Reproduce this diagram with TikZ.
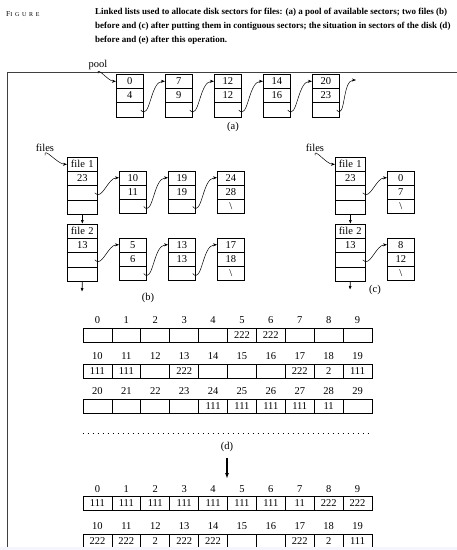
\documentclass[tikz,border=0pt]{standalone}
\usepackage{fontspec}
\setmainfont{Liberation Serif}
\newfontfamily\headfont[LetterSpace=45]{Liberation Serif}
\usetikzlibrary{
    arrows.meta,        % punte delle frecce
    calc,               % calcoli con coordinate
    positioning,
    shapes.multipart    % nodi con piu' campi
}

% riga di altezza fissa dentro i campi
\newcommand{\cell}[1]{\rule[-3.5pt]{0pt}{13.5pt}#1}

\tikzset{
    listbox/.style={draw, line width=0.7pt, rectangle split, rectangle split parts=3,
        text width=27pt, align=center, inner xsep=0pt, inner ysep=0pt, anchor=north west},
    filebox/.style={listbox, rectangle split parts=4, text width=30pt},
    sector/.style={draw, line width=0.7pt, minimum width=28.9pt, minimum height=14pt, inner sep=0pt},
    lbl/.style={inner sep=0pt, label distance=3.5pt},
    ptr/.style={-{Stealth[length=4pt,width=3pt]}, line width=0.5pt},
    down/.style={-{Latex[length=4pt,width=3pt]}, line width=0.7pt},
    bigarrow/.style={-{Latex[length=6pt,width=4pt]}, line width=1.4pt},
    dotline/.style={line width=1.1pt, dash pattern=on 1pt off 4pt},
    frame/.style={line width=0.8pt, black!75}
}

\begin{document}
\begin{tikzpicture}[x=1pt, y=-1pt, font=\fontsize{10.5}{12}\selectfont]

        \useasboundingbox (0,0) rectangle (457,550);

        % Intestazione e didascalia
        \node[anchor=base west, inner sep=0pt] (fig) at (6,16)
            {\headfont\fontsize{7.5}{8}\selectfont F\fontsize{6}{7}\selectfont IGURE};
        \node[anchor=north west, inner sep=0pt, align=left,
              font=\bfseries\fontsize{9}{14}\selectfont] (cap) at (95,7.5)
            {Linked lists used to allocate disk sectors for files: (a) a pool of available sectors; two files (b)\\
             before and (c) after putting them in contiguous sectors; the situation in sectors of the disk (d)\\
             before and (e) after this operation.};

        % Cornice
        \draw[frame] (7,550) -- (7,72) -- (457,72);

        % (a) pool dei settori liberi
        \node (pool) at (98,65) {pool};
        \node[listbox] (p1) at (116,74) {\cell{0}\nodepart{two}\cell{4}\nodepart{three}\cell{}};
        \node[listbox] (p2) at (165,74) {\cell{7}\nodepart{two}\cell{9}\nodepart{three}\cell{}};
        \node[listbox] (p3) at (214,74) {\cell{12}\nodepart{two}\cell{12}\nodepart{three}\cell{}};
        \node[listbox] (p4) at (263,74) {\cell{14}\nodepart{two}\cell{16}\nodepart{three}\cell{}};
        \node[listbox] (p5) at (312,74) {\cell{20}\nodepart{two}\cell{23}\nodepart{three}\cell{}};
        \coordinate (pend) at (356,80);

        \draw[ptr] (pool.south) to[out=100, in=180] ($(p1.north west)!0.5!(p1.text split west)$);
        \foreach \i/\j in {1/2, 2/3, 3/4, 4/5}
            \draw[ptr] ($(p\i.south east)!0.5!(p\i.two split east)+(-3,0)$)
                to[out=-50, in=180] ($(p\j.north west)!0.5!(p\j.text split west)$);
        \draw[ptr] ($(p5.south east)!0.5!(p5.two split east)+(-3,0)$) to[out=-50, in=180] (pend);
        \node (alab) at (233,127) {(a)};

        % (b) due file prima
        \node (files) at (45,148) {files};
        \node[filebox] (f1) at (67,157)
            {\cell{file 1}\nodepart{two}\cell{23}\nodepart{three}\cell{}\nodepart{four}\cell{}};
        \node[listbox] (f1a) at (119,170.5) {\cell{10}\nodepart{two}\cell{11}\nodepart{three}\cell{}};
        \node[listbox] (f1b) at (168,170.5) {\cell{19}\nodepart{two}\cell{19}\nodepart{three}\cell{}};
        \node[listbox] (f1c) at (217,170.5) {\cell{24}\nodepart{two}\cell{28}\nodepart{three}\cell{\textbackslash}};
        \node[filebox] (f2) at (67,224)
            {\cell{file 2}\nodepart{two}\cell{13}\nodepart{three}\cell{}\nodepart{four}\cell{}};
        \node[listbox] (f2a) at (119,237.5) {\cell{5}\nodepart{two}\cell{6}\nodepart{three}\cell{}};
        \node[listbox] (f2b) at (168,237.5) {\cell{13}\nodepart{two}\cell{13}\nodepart{three}\cell{}};
        \node[listbox] (f2c) at (217,237.5) {\cell{17}\nodepart{two}\cell{18}\nodepart{three}\cell{\textbackslash}};
        \coordinate (f2end) at (82,292);

        \draw[ptr] (files.south) to[out=100, in=180] ($(f1.north west)!0.5!(f1.text split west)$);
        \foreach \f in {f1, f2} {
            \draw[ptr] ($(\f.three split east)!0.5!(\f.two split east)+(-3,0)$)
                to[out=-50, in=180] ($(\f a.north west)!0.5!(\f a.text split west)$);
            \draw[ptr] ($(\f a.south east)!0.5!(\f a.two split east)+(-3,0)$)
                to[out=-50, in=180] ($(\f b.north west)!0.5!(\f b.text split west)$);
            \draw[ptr] ($(\f b.south east)!0.5!(\f b.two split east)+(-3,0)$)
                to[out=-50, in=180] ($(\f c.north west)!0.5!(\f c.text split west)$);
        }
        \draw[down] (f1.south) -- (f2.north);
        \draw[down] (f2.south) -- (f2end);
        \node (blab) at (148,298) {(b)};

        % (c) due file dopo
        \node (files2) at (315,148) {files};
        \node[filebox] (g1) at (335,157)
            {\cell{file 1}\nodepart{two}\cell{23}\nodepart{three}\cell{}\nodepart{four}\cell{}};
        \node[listbox] (g1a) at (387,170.5) {\cell{0}\nodepart{two}\cell{7}\nodepart{three}\cell{\textbackslash}};
        \node[filebox] (g2) at (335,224)
            {\cell{file 2}\nodepart{two}\cell{13}\nodepart{three}\cell{}\nodepart{four}\cell{}};
        \node[listbox] (g2a) at (387,237.5) {\cell{8}\nodepart{two}\cell{12}\nodepart{three}\cell{\textbackslash}};
        \coordinate (g2end) at (350,290);

        \draw[ptr] (files2.south) to[out=100, in=180] ($(g1.north west)!0.5!(g1.text split west)$);
        \foreach \f in {g1, g2}
            \draw[ptr] ($(\f.three split east)!0.5!(\f.two split east)+(-3,0)$)
                to[out=-50, in=180] ($(\f a.north west)!0.5!(\f a.text split west)$);
        \draw[down] (g1.south) -- (g2.north);
        \draw[down] (g2.south) -- (g2end);
        \node (clab) at (375,290) {(c)};

        % (d) settori del disco prima
        \foreach \v [count=\i from 0] in {{},{},{},{},{},222,222,{},{},{}}
            \node[sector, label={[lbl]above:\i}] (s\i) at ({83+(\i+0.5)*28.9},335) {\v};
        \foreach \v [count=\i from 10] in {111,111,{},222,{},{},{},222,2,111}
            \node[sector, label={[lbl]above:\i}] (s\i) at ({83+(\i-9.5)*28.9},371) {\v};
        \foreach \v [count=\i from 20] in {{},{},{},{},111,111,111,111,11,{}}
            \node[sector, label={[lbl]above:\i}] (s\i) at ({83+(\i-19.5)*28.9},406) {\v};

        \draw[dotline] ($(s20.south west)+(0,20)$) -- ($(s29.south east)+(0,20)$);
        \node (dlab) at (227,447) {(d)};
        \coordinate (dend) at (227,479);
        \draw[bigarrow] ($(dlab.south)+(0,3)$) -- (dend);

        % (e) settori del disco dopo
        \foreach \v [count=\i from 0] in {111,111,111,111,111,111,111,11,222,222}
            \node[sector, label={[lbl]above:\i}] (t\i) at ({83+(\i+0.5)*28.9},503.5) {\v};
        \foreach \v [count=\i from 10] in {222,222,2,222,222,{},{},222,2,111}
            \node[sector, label={[lbl]above:\i}] (t\i) at ({83+(\i-9.5)*28.9},541) {\v};

        \fill[black!12!blue!4] (0,547) rectangle (457,550);

    \end{tikzpicture}
\end{document}
